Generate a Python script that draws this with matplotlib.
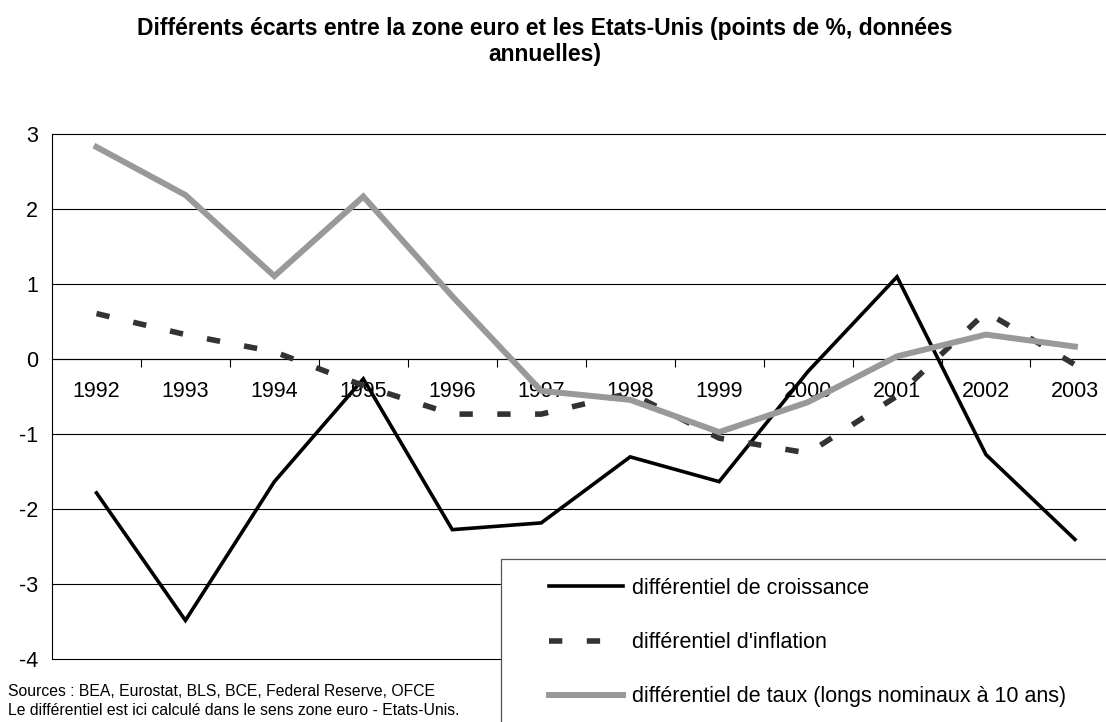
import numpy as np
import matplotlib.pyplot as plt
from matplotlib.patches import Rectangle

plt.rcParams['font.family'] = ['Liberation Sans', 'DejaVu Sans']
plt.rcParams['axes.unicode_minus'] = False

# data (points de %)
years = ['1992', '1993', '1994', '1995', '1996', '1997',
         '1998', '1999', '2000', '2001', '2002', '2003']
croissance = [-1.79, -3.49, -1.64, -0.27, -2.28, -2.19, -1.31, -1.64, -0.17, 1.09, -1.28, -2.41]
inflation = [0.60, 0.32, 0.09, -0.36, -0.74, -0.74, -0.46, -1.06, -1.26, -0.50, 0.62, -0.08]
taux = [2.82, 2.18, 1.10, 2.16, 0.83, -0.43, -0.55, -0.98, -0.58, 0.03, 0.32, 0.16]

labels = ["différentiel de croissance",
          "différentiel d'inflation",
          "différentiel de taux (longs nominaux à 10 ans)"]

W, H = 1106, 722
fig = plt.figure(figsize=(W / 100, H / 100), dpi=100)
# plot area runs a bit past the right edge of the picture, like the original
ax = fig.add_axes([52 / W, (H - 658.7) / H, 1067.4 / W, 525.2 / H])

x = np.arange(len(years))
l1, = ax.plot(x, croissance, color='black', lw=2.6, zorder=4,
              solid_joinstyle='miter')
l2, = ax.plot(x, inflation, color='#333333', lw=4.0, zorder=4,
              dashes=(2.4, 4.4), dash_capstyle='butt')
l3, = ax.plot(x, taux, color='#999999', lw=4.3, zorder=4,
              solid_joinstyle='miter')

ax.set_xlim(-0.5, len(years) - 0.5)
ax.set_ylim(-4, 3)

# horizontal grid, one line per unit
for v in range(-4, 4):
    ax.axhline(v, color='black', lw=0.8, zorder=1, clip_on=False)

for s in ['top', 'right']:
    ax.spines[s].set_visible(False)
ax.spines['left'].set_linewidth(0.8)
ax.spines['bottom'].set_position(('data', 0))
ax.spines['bottom'].set_linewidth(0.8)

ax.set_yticks(range(-4, 4))
ax.tick_params(axis='y', length=0, pad=10, labelsize=15.5)

# tick marks between categories, year labels centred under each category
ax.set_xticks(np.arange(0.5, len(years) - 1, 1.0))
ax.set_xticklabels([])
ax.tick_params(axis='x', which='major', length=6, width=0.8, direction='out')
ax.set_xticks(x, minor=True)
ax.set_xticklabels(years, minor=True)
ax.tick_params(axis='x', which='minor', length=0, pad=16, labelsize=15.5)

# legend box
fig.add_artist(Rectangle((501 / W, -0.05), 0.6, (H - 559.3) / H + 0.05,
                         transform=fig.transFigure, facecolor='white',
                         edgecolor='#555555', lw=0.9, zorder=3))
fig.legend([l1, l2, l3], labels, loc='upper left',
           bbox_to_anchor=(549 / W, (H - 578) / H), bbox_transform=fig.transFigure,
           frameon=False, fontsize=15.5, handlelength=3.45, handletextpad=0.42,
           labelspacing=1.54, borderpad=0, borderaxespad=0)

fig.text(545 / W, (H - 28) / H,
         "Différents écarts entre la zone euro et les Etats-Unis (points de %, données",
         ha='center', va='center', fontsize=16.5, fontweight='bold')
fig.text(545 / W, (H - 55) / H, "annuelles)",
         ha='center', va='center', fontsize=16.5, fontweight='bold')

fig.text(8 / W, (H - 691.7) / H, "Sources : BEA, Eurostat, BLS, BCE, Federal Reserve, OFCE",
         ha='left', va='center', fontsize=11.3)
fig.text(8 / W, (H - 710.7) / H, "Le différentiel est ici calculé dans le sens zone euro - Etats-Unis.",
         ha='left', va='center', fontsize=11.3)

fig.savefig('out.png', dpi=100)
